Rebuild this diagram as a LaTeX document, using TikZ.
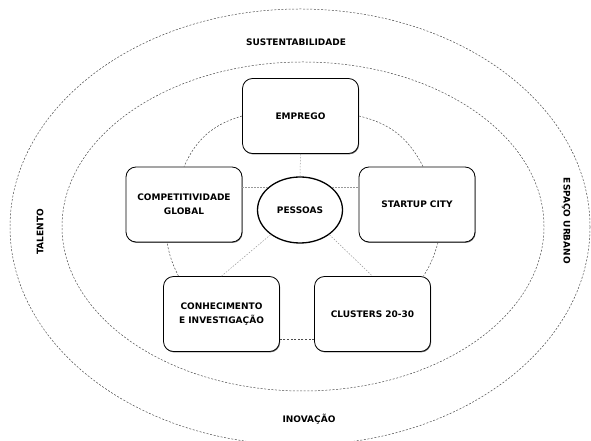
\documentclass[tikz,border=0pt]{standalone}
\usepackage{fontspec}
\setmainfont{DejaVu Sans}
\usepackage{tikz}
\usetikzlibrary{positioning,shapes.geometric,shadows}

\tikzset{
	ring/.style={draw=black!70, line width=0.5pt, dash pattern=on 2pt off 1.6pt},
	pillar/.style={draw=black, line width=0.8pt, rounded corners=10pt, fill=white,
		minimum width=116pt, minimum height=75pt, inner sep=3pt, align=center,
		general shadow={fill=black!55, shadow xshift=0.6pt, shadow yshift=-0.9pt},
		font=\bfseries\fontsize{9}{14}\selectfont},
	core/.style={ellipse, draw=black, line width=1.3pt, fill=white,
		minimum width=85pt, minimum height=66pt, font=\bfseries\fontsize{9}{14}\selectfont},
	spoke/.style={draw=black!40, line width=0.5pt, dash pattern=on 1.5pt off 1.5pt},
	link/.style={draw=black!70, line width=0.5pt, dash pattern=on 2pt off 1.6pt},
	axis/.style={font=\bfseries\fontsize{9}{12}\selectfont}
}

\begin{document}
\begin{tikzpicture}[x=1pt,y=1pt]
			\useasboundingbox (0,0) rectangle (591,441);
			\draw[ring] (300,214) ellipse [x radius=290, y radius=218];
			\draw[ring] (303,214.5) ellipse [x radius=241, y radius=164.5];
			\node[axis] (sustentabilidade) at (296,399) {SUSTENTABILIDADE};
			\node[axis] (inovacao) at (309,22) {INOVAÇÃO};
			\node[axis, rotate=90] (talento) at (40,209) {TALENTO};
			\node[axis, rotate=-90] (espaco) at (566,220) {ESPAÇO URBANO};
			\node[core] (pessoas) at (300,231) {PESSOAS};
			\node[pillar] (emprego) at (300.5,325) {EMPREGO};
			\node[pillar] (competitividade) at (184,236.5) {COMPETITIVIDADE\\GLOBAL};
			\node[pillar] (startup) at (417,236.5) {STARTUP CITY};
			\node[pillar] (conhecimento) at (221.5,127) {CONHECIMENTO\\E INVESTIGAÇÃO};
			\node[pillar] (clusters) at (372.5,127) {CLUSTERS 20-30};
			\draw[spoke] (emprego) -- (pessoas);
			\draw[spoke] (pessoas.145) -- (pessoas.145 -| competitividade.east);
			\draw[spoke] (pessoas.35) -- (pessoas.35 -| startup.west);
			\draw[spoke] (pessoas.220) -- (conhecimento.north);
			\draw[spoke] (pessoas.-40) -- (clusters.north);
			\draw[link] (emprego.west) to[bend right=25] (competitividade.north);
			\draw[link] (emprego.east) to[bend left=25] ([xshift=6pt]startup.north);
			\draw[link] ([xshift=21pt]startup.south) to[bend left=8] ([xshift=51pt]clusters.north);
			\draw[link] ([yshift=-25pt]clusters.west) -- ([yshift=-25pt]conhecimento.east);
			\draw[link] ([xshift=-43pt]conhecimento.north) to[bend left=8] ([xshift=-17pt]competitividade.south);
		\end{tikzpicture}
\end{document}
